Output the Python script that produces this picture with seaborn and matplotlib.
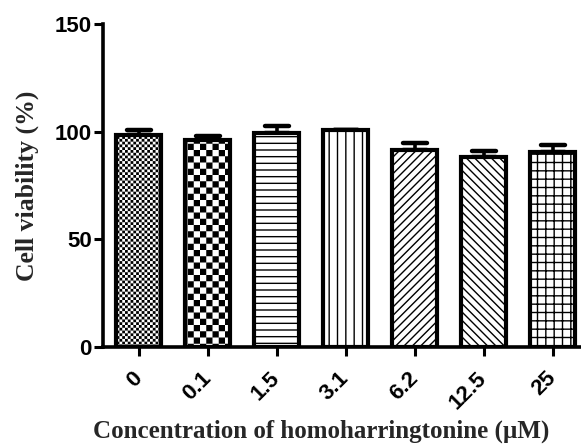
import numpy as np
import pandas as pd
import matplotlib
matplotlib.use("Agg")
import matplotlib.pyplot as plt
import matplotlib.hatch as mhatch
from matplotlib.path import Path
from matplotlib.markers import MarkerStyle
import seaborn as sns

# ==========================================
# 1. DATA
# ==========================================
concentrations = ["0", "0.1", "1.5", "3.1", "6.2", "12.5", "25"]
viability = [98.6, 96.2, 99.4, 100.6, 91.6, 88.2, 90.5]
sem = [2.2, 1.6, 3.2, 0.0, 3.3, 3.0, 3.1]
patterns = ["o", "O", "*", "||", "////", "\\\\\\\\", "++"]

yticks = [0, 50, 100, 150]
xlabel = "Concentration of homoharringtonine (µM)"
ylabel = "Cell viability (%)"


# ==========================================
# 2. EXTRA HATCHES (checkerboards + denser rules)
# ==========================================
class FineChecker(mhatch.HatchPatternBase):
    char = "o"
    cells = 36

    def __init__(self, hatch, density):
        self.n = self.cells if self.char in hatch else 0
        self.num_vertices = (self.n * self.n // 2) * 5

    def set_vertices_and_codes(self, vertices, codes):
        c = 1.0 / self.n
        inset = 0.007  # leaves room for the hatch stroke
        sq = np.array([[inset, inset], [c - inset, inset], [c - inset, c - inset],
                       [inset, c - inset], [inset, inset]])
        parts = [sq + [i * c, j * c] for i in range(self.n) for j in range(self.n)
                 if (i + j) % 2 == 0]
        vertices[:] = np.concatenate(parts)
        codes[:] = np.tile([Path.MOVETO, Path.LINETO, Path.LINETO, Path.LINETO,
                            Path.CLOSEPOLY], len(parts))


class CoarseChecker(FineChecker):
    char = "O"
    cells = 16


class DenseRules(mhatch.HorizontalHatch):
    def __init__(self, hatch, density):
        self.num_lines = 15 * hatch.count("*")
        self.num_vertices = self.num_lines * 2


mhatch._hatch_types = [mhatch.HorizontalHatch, mhatch.VerticalHatch,
                       mhatch.NorthEastHatch, mhatch.SouthEastHatch,
                       FineChecker, CoarseChecker, DenseRules]

# ==========================================
# 3. PLOTTING
# ==========================================
sns.set_theme(style="ticks")
plt.rcParams["hatch.linewidth"] = 1.0
plt.rcParams["hatch.color"] = "black"
plt.rcParams["font.family"] = ["Liberation Sans", "DejaVu Sans"]

df = pd.DataFrame({"conc": concentrations, "viability": viability})

fig = plt.figure(figsize=(5.81, 4.47), dpi=100)
ax = fig.add_axes([0.178, 0.2248, 0.822, 0.7209])

sns.barplot(data=df, x="conc", y="viability", order=concentrations,
            color="white", edgecolor="black", linewidth=3, width=0.65,
            errorbar=None, ax=ax)

for bar, pat in zip(ax.patches, patterns):
    bar.set_facecolor("white")
    bar.set_hatch(pat)

# upper error bars only (GraphPad style)
eb = ax.errorbar(np.arange(len(viability)), viability,
                 yerr=[np.zeros(len(sem)), sem], fmt="none", ecolor="black",
                 elinewidth=2.6, capsize=8.5, capthick=3.2, zorder=0.5)
for cap in eb[1]:
    cap.set_marker(MarkerStyle("_", capstyle="round"))

ax.set_ylim(0, 150)
ax.set_xlim(-0.514, 6.41)
ax.set_yticks(yticks)

sns.despine(ax=ax)
for side in ["left", "bottom"]:
    ax.spines[side].set_linewidth(2.6)
    ax.spines[side].set_color("black")

ax.tick_params(axis="both", length=6.5, width=2.2, color="black",
               labelsize=16, labelcolor="black")
ax.tick_params(axis="y", pad=2)
ax.tick_params(axis="x", pad=14)
for lab in ax.get_yticklabels():
    lab.set_fontweight("bold")
ax.set_xticks(range(len(concentrations)))
ax.set_xticklabels(concentrations, rotation=45, ha="right", va="center",
                   rotation_mode="anchor", fontweight="bold")

ax.set_xlabel(xlabel, fontsize=18, fontweight="bold",
              family=["Liberation Serif", "DejaVu Serif"])
ax.set_ylabel(ylabel, fontsize=18.5, fontweight="bold",
              family=["Liberation Serif", "DejaVu Serif"])
ax.xaxis.set_label_coords(0.4555, -0.226)
ax.yaxis.set_label_coords(-0.135, 0.5)

fig.savefig("out.png", dpi=100)
